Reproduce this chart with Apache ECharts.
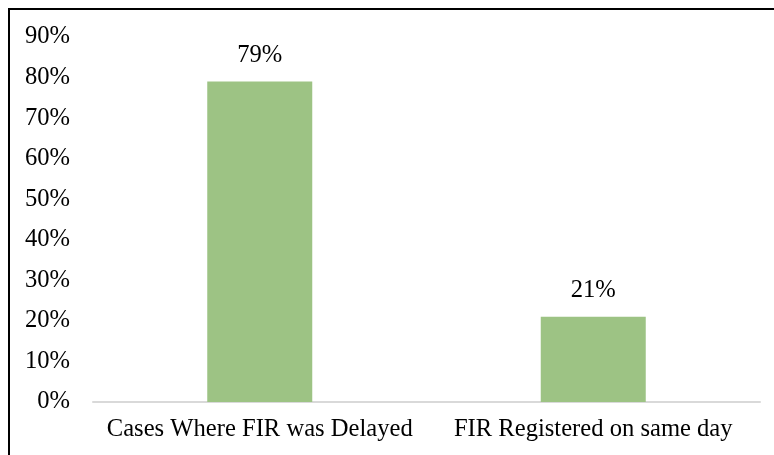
<!DOCTYPE html>
<html>
<head>
<meta charset="utf-8">
<script src="https://cdn.jsdelivr.net/npm/echarts@6/dist/echarts.min.js"></script>
<style>
  html, body { margin: 0; padding: 0; background: #fff; }
  #chart { width: 774px; height: 455px; position: absolute; left: 0; top: 0; }
  #frame { position: absolute; left: 8px; top: 8px; width: 780px; height: 460px;
    border-left: 2px solid #000; border-top: 2px solid #000; pointer-events: none; }
</style>
</head>
<body>
<div id="chart"></div>
<div id="frame"></div>
<script>
// FIR registration timing - share of cases
const categories = ['Cases Where FIR was Delayed', 'FIR Registered on same day'];
const shares = [79, 21];
const yTicks = [0, 10, 20, 30, 40, 50, 60, 70, 80, 90];

const FONT = "'Liberation Serif', 'Times New Roman', serif";
const BAR = '#9dc384';
const FS = 24.6;

const chart = echarts.init(document.getElementById('chart'), null, { renderer: 'canvas' });
chart.setOption({
  backgroundColor: '#fff',
  animation: false,
  textStyle: { fontFamily: FONT, color: '#000' },
  grid: { left: 93, right: 14, top: 37, bottom: 53, containLabel: false },
  xAxis: {
    type: 'category',
    data: categories,
    axisLine: { lineStyle: { color: '#d9d9d9', width: 2 } },
    axisTick: { show: false },
    axisLabel: { color: '#000', fontSize: FS, fontFamily: FONT, margin: 15, interval: 0 },
  },
  yAxis: {
    type: 'value',
    min: yTicks[0],
    max: yTicks[yTicks.length - 1],
    interval: 10,
    axisLine: { show: false },
    axisTick: { show: false },
    splitLine: { show: false },
    axisLabel: { color: '#000', fontSize: FS, fontFamily: FONT, margin: 23,
      formatter: v => v + '%' },
  },
  series: [{
    type: 'bar',
    data: shares,
    barWidth: 105,
    itemStyle: { color: BAR },
    label: {
      show: true, position: 'top', distance: 14,
      color: '#000', fontSize: FS, fontFamily: FONT,
      formatter: p => p.value + '%',
    },
  }],
});
</script>
</body>
</html>
